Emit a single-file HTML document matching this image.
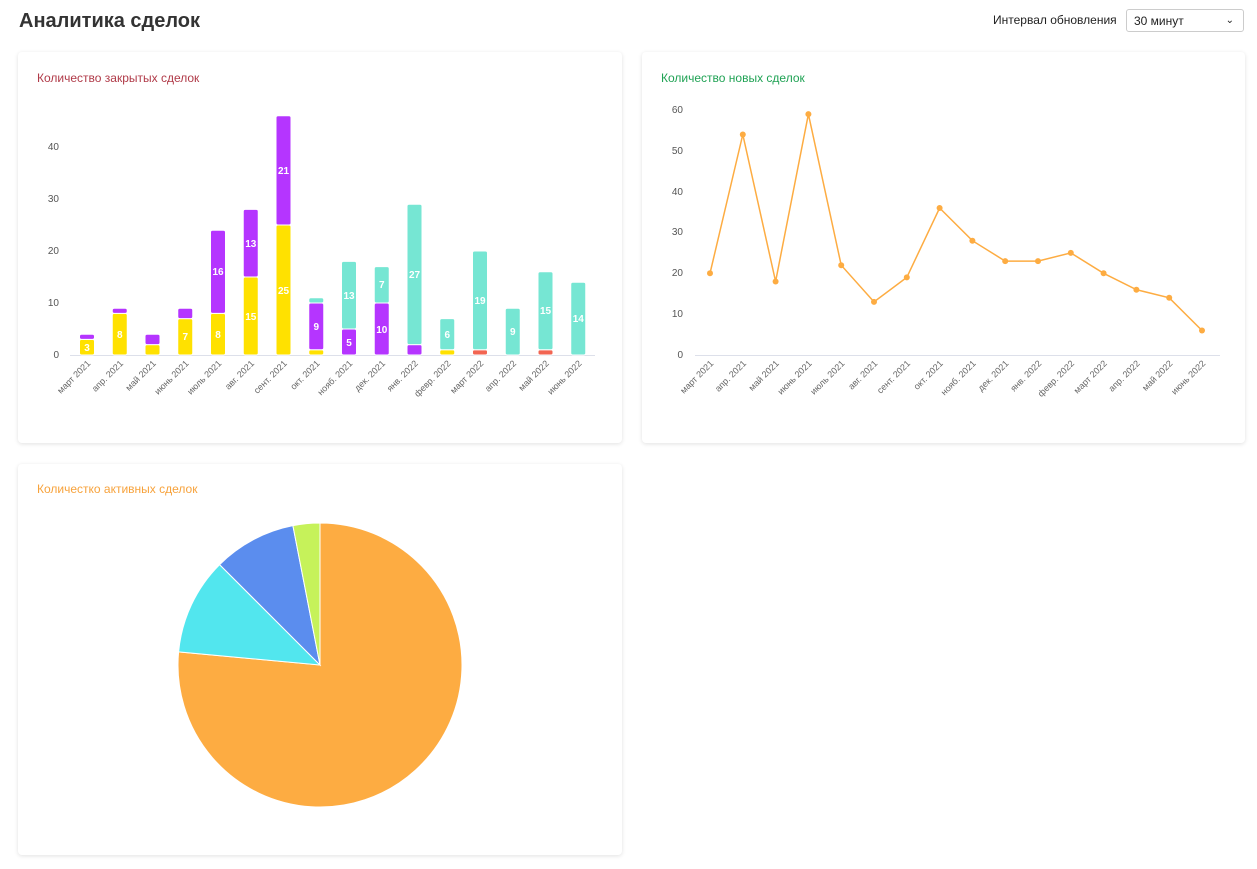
<!DOCTYPE html>
<html><head><meta charset="utf-8"><style>
body{margin:0;background:#fff;font-family:"Liberation Sans",sans-serif;}
.card{position:absolute;background:#fff;border-radius:4px;box-shadow:0 1px 4px rgba(0,0,0,0.12);}
</style></head><body>
<div style="position:relative;width:1257px;height:869px;overflow:hidden">
<div style="position:absolute;left:19px;top:10px;font-size:20px;font-weight:bold;color:#333">Аналитика сделок</div>
<div style="position:absolute;left:993px;top:13px;font-size:12px;color:#222">Интервал обновления</div>
<div style="position:absolute;left:1126px;top:9px;width:118px;height:23px;border:1px solid #ccc;border-radius:3px;font-size:12px;color:#222;line-height:23px;box-sizing:border-box;padding-left:7px">30 минут<span style="position:absolute;right:9px;top:-1px;font-size:10px">&#8964;</span></div>
<div class="card" style="left:18px;top:52px;width:604px;height:391px"></div>
<div class="card" style="left:642px;top:52px;width:603px;height:391px"></div>
<div class="card" style="left:18px;top:464px;width:604px;height:391px"></div>
<svg style="position:absolute;left:0;top:0" width="1257" height="869" font-family="Liberation Sans, sans-serif">
<text x="37" y="82" font-size="12" fill="#b03a48">Количество закрытых сделок</text>
<text x="661" y="82" font-size="12" fill="#1fa254">Количество новых сделок</text>
<text x="37" y="493" font-size="12" fill="#f7a23b">Количестко активных сделок</text>
<g font-size="10" fill="#555" text-anchor="end">
<text x="59" y="358">0</text><text x="59" y="306">10</text><text x="59" y="254">20</text><text x="59" y="202">30</text><text x="59" y="150">40</text>
</g>
<line x1="70" y1="355.5" x2="595" y2="355.5" stroke="#dde0ea"/>
<g stroke="#fff" stroke-width="1">
<rect x="79.5" y="339.4" width="15" height="15.6" rx="2" fill="#FFE100"/><rect x="79.5" y="334.2" width="15" height="5.2" rx="2" fill="#B535FF"/>
<rect x="112.25" y="313.4" width="15" height="41.6" rx="2" fill="#FFE100"/><rect x="112.25" y="308.2" width="15" height="5.2" rx="2" fill="#B535FF"/>
<rect x="145" y="344.6" width="15" height="10.4" rx="2" fill="#FFE100"/><rect x="145" y="334.2" width="15" height="10.4" rx="2" fill="#B535FF"/>
<rect x="177.75" y="318.6" width="15" height="36.4" rx="2" fill="#FFE100"/><rect x="177.75" y="308.2" width="15" height="10.4" rx="2" fill="#B535FF"/>
<rect x="210.5" y="313.4" width="15" height="41.6" rx="2" fill="#FFE100"/><rect x="210.5" y="230.2" width="15" height="83.2" rx="2" fill="#B535FF"/>
<rect x="243.25" y="277" width="15" height="78" rx="2" fill="#FFE100"/><rect x="243.25" y="209.4" width="15" height="67.6" rx="2" fill="#B535FF"/>
<rect x="276" y="225" width="15" height="130" rx="2" fill="#FFE100"/><rect x="276" y="115.8" width="15" height="109.2" rx="2" fill="#B535FF"/>
<rect x="308.75" y="349.8" width="15" height="5.2" rx="2" fill="#FFE100"/><rect x="308.75" y="303" width="15" height="46.8" rx="2" fill="#B535FF"/><rect x="308.75" y="297.8" width="15" height="5.2" rx="2" fill="#76E6D3"/>
<rect x="341.5" y="329" width="15" height="26" rx="2" fill="#B535FF"/><rect x="341.5" y="261.4" width="15" height="67.6" rx="2" fill="#76E6D3"/>
<rect x="374.25" y="303" width="15" height="52" rx="2" fill="#B535FF"/><rect x="374.25" y="266.6" width="15" height="36.4" rx="2" fill="#76E6D3"/>
<rect x="407" y="344.6" width="15" height="10.4" rx="2" fill="#B535FF"/><rect x="407" y="204.2" width="15" height="140.4" rx="2" fill="#76E6D3"/>
<rect x="439.75" y="349.8" width="15" height="5.2" rx="2" fill="#FFE100"/><rect x="439.75" y="318.6" width="15" height="31.2" rx="2" fill="#76E6D3"/>
<rect x="472.5" y="349.8" width="15" height="5.2" rx="2" fill="#F26552"/><rect x="472.5" y="251" width="15" height="98.8" rx="2" fill="#76E6D3"/>
<rect x="505.25" y="308.2" width="15" height="46.8" rx="2" fill="#76E6D3"/>
<rect x="538" y="349.8" width="15" height="5.2" rx="2" fill="#F26552"/><rect x="538" y="271.8" width="15" height="78" rx="2" fill="#76E6D3"/>
<rect x="570.75" y="282.2" width="15" height="72.8" rx="2" fill="#76E6D3"/>
</g>
<g font-size="10" font-weight="bold" fill="#fff" text-anchor="middle">
<text x="87" y="351">3</text><text x="119.75" y="338">8</text><text x="185.25" y="340">7</text>
<text x="218" y="338">8</text><text x="218" y="275">16</text>
<text x="250.75" y="320">15</text><text x="250.75" y="247">13</text>
<text x="283.5" y="294">25</text><text x="283.5" y="174">21</text>
<text x="316.25" y="330">9</text>
<text x="349" y="346">5</text><text x="349" y="299">13</text>
<text x="381.75" y="333">10</text><text x="381.75" y="288">7</text>
<text x="414.5" y="278">27</text><text x="447.25" y="338">6</text><text x="480" y="304">19</text>
<text x="512.75" y="335">9</text><text x="545.5" y="314">15</text><text x="578.25" y="322">14</text>
</g>
<g font-size="9" fill="#666" text-anchor="end">
<text transform="translate(91,364) rotate(-45)">март 2021</text>
<text transform="translate(123.75,364) rotate(-45)">апр. 2021</text>
<text transform="translate(156.5,364) rotate(-45)">май 2021</text>
<text transform="translate(189.25,364) rotate(-45)">июнь 2021</text>
<text transform="translate(222,364) rotate(-45)">июль 2021</text>
<text transform="translate(254.75,364) rotate(-45)">авг. 2021</text>
<text transform="translate(287.5,364) rotate(-45)">сент. 2021</text>
<text transform="translate(320.25,364) rotate(-45)">окт. 2021</text>
<text transform="translate(353,364) rotate(-45)">нояб. 2021</text>
<text transform="translate(385.75,364) rotate(-45)">дек. 2021</text>
<text transform="translate(418.5,364) rotate(-45)">янв. 2022</text>
<text transform="translate(451.25,364) rotate(-45)">февр. 2022</text>
<text transform="translate(484,364) rotate(-45)">март 2022</text>
<text transform="translate(516.75,364) rotate(-45)">апр. 2022</text>
<text transform="translate(549.5,364) rotate(-45)">май 2022</text>
<text transform="translate(582.25,364) rotate(-45)">июнь 2022</text>
</g>
<g font-size="10" fill="#555" text-anchor="end">
<text x="683" y="358">0</text><text x="683" y="317">10</text><text x="683" y="276">20</text><text x="683" y="235">30</text><text x="683" y="195">40</text><text x="683" y="154">50</text><text x="683" y="113">60</text>
</g>
<line x1="695" y1="355.5" x2="1220" y2="355.5" stroke="#dde0ea"/>
<polyline fill="none" stroke="#FDAC42" stroke-width="1.5" points="710,273.3 742.8,134.5 775.6,281.5 808.4,114.1 841.2,265.2 874,301.9 906.8,277.4 939.6,208 972.4,240.7 1005.2,261.1 1038,261.1 1070.8,252.9 1103.6,273.3 1136.4,289.7 1169.2,297.8 1202,330.5"/>
<g fill="#FDAC42">
<circle cx="710" cy="273.3" r="3"/><circle cx="742.8" cy="134.5" r="3"/><circle cx="775.6" cy="281.5" r="3"/><circle cx="808.4" cy="114.1" r="3"/><circle cx="841.2" cy="265.2" r="3"/><circle cx="874" cy="301.9" r="3"/><circle cx="906.8" cy="277.4" r="3"/><circle cx="939.6" cy="208" r="3"/><circle cx="972.4" cy="240.7" r="3"/><circle cx="1005.2" cy="261.1" r="3"/><circle cx="1038" cy="261.1" r="3"/><circle cx="1070.8" cy="252.9" r="3"/><circle cx="1103.6" cy="273.3" r="3"/><circle cx="1136.4" cy="289.7" r="3"/><circle cx="1169.2" cy="297.8" r="3"/><circle cx="1202" cy="330.5" r="3"/>
</g>
<g font-size="9" fill="#666" text-anchor="end">
<text transform="translate(714,364) rotate(-45)">март 2021</text>
<text transform="translate(746.8,364) rotate(-45)">апр. 2021</text>
<text transform="translate(779.6,364) rotate(-45)">май 2021</text>
<text transform="translate(812.4,364) rotate(-45)">июнь 2021</text>
<text transform="translate(845.2,364) rotate(-45)">июль 2021</text>
<text transform="translate(878,364) rotate(-45)">авг. 2021</text>
<text transform="translate(910.8,364) rotate(-45)">сент. 2021</text>
<text transform="translate(943.6,364) rotate(-45)">окт. 2021</text>
<text transform="translate(976.4,364) rotate(-45)">нояб. 2021</text>
<text transform="translate(1009.2,364) rotate(-45)">дек. 2021</text>
<text transform="translate(1042,364) rotate(-45)">янв. 2022</text>
<text transform="translate(1074.8,364) rotate(-45)">февр. 2022</text>
<text transform="translate(1107.6,364) rotate(-45)">март 2022</text>
<text transform="translate(1140.4,364) rotate(-45)">апр. 2022</text>
<text transform="translate(1173.2,364) rotate(-45)">май 2022</text>
<text transform="translate(1206,364) rotate(-45)">июнь 2022</text>
</g>
<path d="M320,665 L320,523 A142,142 0 1 1 178.6,651.9 Z" fill="#FDAC42" stroke="#fff" stroke-width="1"/>
<path d="M320,665 L178.6,651.9 A142,142 0 0 1 219.6,564.6 Z" fill="#52E6EE" stroke="#fff" stroke-width="1"/>
<path d="M320,665 L219.6,564.6 A142,142 0 0 1 292.9,525.6 Z" fill="#5B8DEE" stroke="#fff" stroke-width="1"/>
<path d="M320,665 L292.9,525.6 A142,142 0 0 1 320,523 Z" fill="#C6F25A" stroke="#fff" stroke-width="1"/>
</svg>
</div>
</body></html>
